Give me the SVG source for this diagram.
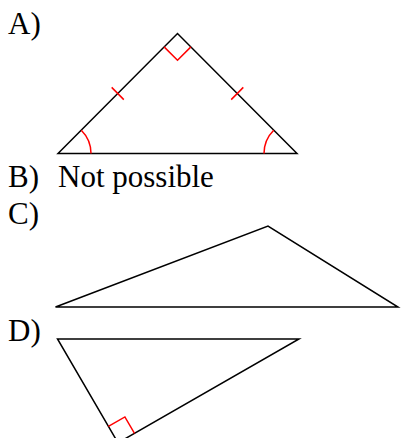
<svg xmlns="http://www.w3.org/2000/svg" width="401" height="438" viewBox="0 0 401 438">
<style>
text{font-family:"Liberation Serif","Times New Roman",serif;font-size:31px;fill:#000}
.edge{fill:none;stroke:#000;stroke-width:1.5;stroke-linejoin:miter}
.mark{fill:none;stroke:#ff0000;stroke-width:1.5}
</style>
<rect width="401" height="438" fill="#fff"/>
<g id="labels">
<text x="8" y="34">A)</text>
<text x="8" y="187">B)</text>
<text x="58" y="187">Not possible</text>
<text x="8" y="224">C)</text>
<text x="8" y="341">D)</text>
</g>
<g id="triangleA">
<polygon class="edge" points="58,153.5 177.5,33.5 297,153.5"/>
<polyline class="mark" points="164.1,46.9 177.5,60.3 190.9,46.9"/>
<line class="mark" x1="111.7" y1="87.4" x2="123.8" y2="99.6"/>
<line class="mark" x1="231.2" y1="99.6" x2="243.3" y2="87.4"/>
<path class="mark" d="M91 153.5 A33 33 0 0 0 81.3 130.2"/>
<path class="mark" d="M264 153.5 A33 33 0 0 1 273.7 130.2"/>
</g>
<g id="triangleC">
<polygon class="edge" points="55.5,307 268,226 398,307"/>
</g>
<g id="triangleD">
<polygon class="edge" points="57.5,339 299,339 118,442.8"/>
<polyline class="mark" points="108.4,426.4 124.9,416.95 134.5,433.35"/>
</g>
</svg>
